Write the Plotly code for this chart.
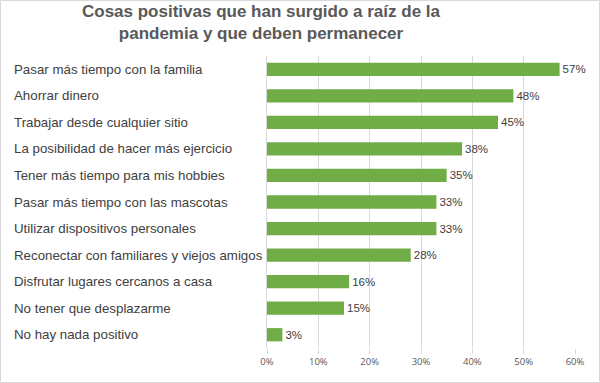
import plotly.graph_objects as go

categories = [
    "Pasar más tiempo con la familia",
    "Ahorrar dinero",
    "Trabajar desde cualquier sitio",
    "La posibilidad de hacer más ejercicio",
    "Tener más tiempo para mis hobbies",
    "Pasar más tiempo con las mascotas",
    "Utilizar dispositivos personales",
    "Reconectar con familiares y viejos amigos",
    "Disfrutar lugares cercanos a casa",
    "No tener que desplazarme",
    "No hay nada positivo",
]
values = [57, 48, 45, 38, 35, 33, 33, 28, 16, 15, 3]
tick_vals = [0, 10, 20, 30, 40, 50, 60]
tick_text = ["0%", "10%", "20%", "30%", "40%", "50%", "60%"]
title_text = "<b>Cosas positivas que han surgido a raíz de la<br>pandemia y que deben permanecer</b>"

L, R, T, B = 267, 25, 56, 35
W, H = 600, 383
pw, ph = W - L - R, H - T - B

fig = go.Figure(go.Bar(
    x=values, y=categories, orientation="h",
    marker=dict(color="#70ad47", line=dict(width=0)),
    text=[f"{v}%" for v in values], textposition="outside",
    textfont=dict(family="Liberation Sans, Arial, sans-serif", size=11.5, color="#404040"),
    cliponaxis=False, width=0.5,
))

annotations = [
    dict(text=c, x=-(L - 12) / pw, xref="paper", y=c, yref="y",
         xanchor="left", yanchor="middle", showarrow=False,
         font=dict(family="Liberation Sans, Arial, sans-serif", size=13.3, color="#404040"))
    for c in categories
]

fig.update_layout(
    width=W, height=H,
    margin=dict(l=L, r=R, t=T, b=B),
    paper_bgcolor="white", plot_bgcolor="white",
    title=dict(text=title_text, x=261 / W, xanchor="center", y=1 - 17 / H, yanchor="middle",
               font=dict(family="Liberation Sans, Arial, sans-serif", size=17, color="#595959")),
    xaxis=dict(range=[0, 60], tickvals=tick_vals, ticktext=tick_text,
               showgrid=True, gridcolor="#d9d9d9", gridwidth=1, zeroline=False,
               ticks="outside", ticklen=5, tickcolor="#d9d9d9",
               tickfont=dict(family="Open Sans, sans-serif", size=9.5, color="#595959"),
               showline=False),
    yaxis=dict(categoryorder="array", categoryarray=categories[::-1],
               showticklabels=False, showgrid=False, zeroline=False,
               showline=True, linecolor="#d9d9d9", linewidth=1),
    showlegend=False,
    annotations=annotations,
    shapes=[dict(type="rect", xref="paper", yref="paper",
                 x0=(0.5 - L) / pw, x1=(W - 0.5 - L) / pw,
                 y0=-(H - 0.5 - (H - B)) / ph, y1=((H - B) - 0.5) / ph,
                 line=dict(color="#d9d9d9", width=1), layer="below")],
)

fig.write_html("out.html", config={"displayModeBar": False},
               post_script="document.body.style.margin='0';")
